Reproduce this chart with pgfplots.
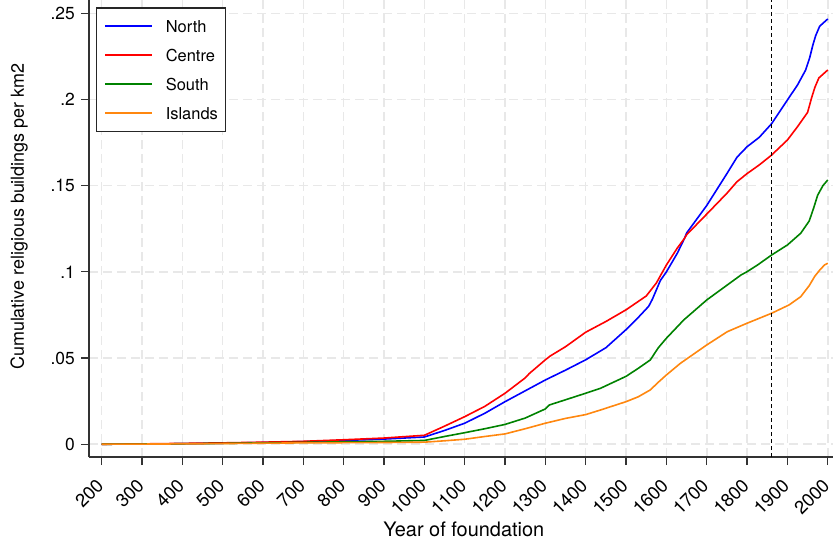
\documentclass[border=0pt]{standalone}
\usepackage{pgfplots}
\usepackage{pgfplotstable}
\usepackage{fontspec}
\setmainfont{TeX Gyre Heros}
\pgfplotsset{compat=1.18}

\definecolor{cNorth}{RGB}{0,0,255}
\definecolor{cCentre}{RGB}{255,0,0}
\definecolor{cSouth}{RGB}{0,130,0}
\definecolor{cIslands}{RGB}{255,135,15}

% cumulative religious buildings per km2, by year of foundation
\pgfplotstableread{
year v
200 0
300 0.0001
400 0.0003
500 0.0006
600 0.0010
700 0.0015
800 0.0022
900 0.0030
1000 0.0042
1050 0.0080
1100 0.0122
1150 0.0180
1200 0.0247
1250 0.0310
1300 0.0373
1350 0.0430
1400 0.0490
1450 0.0560
1500 0.0665
1530 0.0735
1556 0.0800
1565 0.0840
1575 0.0895
1585 0.0950
1600 0.1000
1627 0.1108
1645 0.1195
1650 0.1225
1700 0.1385
1750 0.1570
1775 0.1665
1800 0.1726
1830 0.1780
1861 0.1860
1900 0.1997
1925 0.2084
1945 0.2170
1955 0.2240
1963 0.2315
1970 0.2370
1980 0.2425
2000 0.2467
}\north

\pgfplotstableread{
year v
200 0
300 0.0002
400 0.0005
500 0.0008
600 0.0012
700 0.0017
800 0.0026
900 0.0036
1000 0.0052
1050 0.0105
1100 0.0160
1150 0.0220
1200 0.0296
1250 0.0385
1260 0.0410
1300 0.0490
1312 0.0512
1350 0.0566
1400 0.0650
1450 0.0712
1500 0.0780
1550 0.0860
1575 0.0935
1600 0.1040
1627 0.1138
1645 0.1195
1650 0.1215
1700 0.1335
1750 0.1456
1775 0.1523
1800 0.1570
1830 0.1620
1861 0.1678
1900 0.1765
1925 0.1842
1950 0.1925
1960 0.2010
1968 0.2070
1978 0.2125
2000 0.2171
}\centre

\pgfplotstableread{
year v
200 0
300 0.0001
400 0.0003
500 0.0005
600 0.0008
700 0.0011
800 0.0014
900 0.0017
1000 0.0022
1050 0.0045
1100 0.0067
1150 0.0090
1200 0.0115
1250 0.0152
1300 0.0205
1310 0.0228
1350 0.0258
1400 0.0296
1437 0.0325
1500 0.0394
1530 0.0440
1560 0.0489
1580 0.0560
1600 0.0615
1643 0.0721
1700 0.0837
1751 0.0924
1785 0.0982
1800 0.1001
1826 0.1040
1861 0.1098
1900 0.1156
1933 0.1224
1954 0.1295
1965 0.1370
1975 0.1445
1988 0.1500
2000 0.1533
}\south

\pgfplotstableread{
year v
200 0
300 0.0001
400 0.0002
500 0.0004
600 0.0006
700 0.0008
800 0.0009
900 0.0010
1000 0.0012
1050 0.0020
1100 0.0029
1150 0.0045
1200 0.0060
1250 0.0090
1300 0.0122
1350 0.0150
1400 0.0172
1437 0.0199
1500 0.0247
1530 0.0275
1560 0.0315
1580 0.0360
1600 0.0402
1635 0.0470
1700 0.0576
1751 0.0653
1800 0.0702
1861 0.0760
1904 0.0808
1933 0.0856
1954 0.0920
1968 0.0975
1980 0.1010
1992 0.1040
2000 0.1050
}\islands

\begin{document}
\begin{tikzpicture}
\path[use as bounding box] (-89bp,-91bp) rectangle (744bp,457bp);
\begin{axis}[
  at={(0,0)}, anchor=south west,
  scale only axis,
  width=744bp, height=457bp,
  xmin=168.5, xmax=2013,
  ymin=-0.0074, ymax=0.2577,
  axis x line*=bottom, axis y line*=left,
  axis line style={black!80, line width=1.2bp, -},
  xtick={200,300,...,2000},
  ytick={0,0.05,0.1,0.15,0.2,0.25},
  yticklabels={0,.05,.1,.15,.2,.25},
  xticklabel={\pgfmathprintnumber[1000 sep={},assume math mode=true]{\tick}},
  tick align=outside,
  major tick length=8bp,
  tick style={black!80, line width=1.2bp},
  grid=major,
  major grid style={dash pattern=on 9bp off 5bp, line width=1.5bp, color=black!9},
  xticklabel style={font=\fontsize{18.5}{18.5}\selectfont, xshift=-1.5bp, yshift=-17bp,
    rotate=45, anchor=east, inner sep=0pt, text depth=0pt},
  yticklabel style={font=\fontsize{17.5}{17.5}\selectfont, anchor=east,
    inner sep=0pt, text depth=0pt, xshift=-6bp},
  xlabel={Year of foundation},
  ylabel={Cumulative religious buildings per km2},
  xlabel style={font=\fontsize{20}{20}\selectfont,
    at={(axis description cs:0.5038,-0.1422)}, anchor=north, inner sep=0pt},
  ylabel style={font=\fontsize{18}{18}\selectfont,
    at={(axis description cs:-0.082,0.526)}, anchor=south, inner sep=0pt},
  legend image code/.code={\draw[#1] (0bp,0bp) -- (47bp,0bp);},
  legend cell align=left,
  legend style={at={(axis description cs:0.0094,0.984)}, anchor=north west,
    draw=black!85, line width=1.2bp, fill=white,
    inner xsep=8bp, inner ysep=12bp, row sep=16.5bp, column sep=12.6bp,
    nodes={inner sep=0pt, text height=12.5bp, text depth=0pt, font=\fontsize{16.5}{16.5}\selectfont}},
  every axis plot/.append style={line width=1.6bp, line join=round},
]
\addplot[cNorth] table[x=year, y=v] {\north};
\addlegendentry{North}
\addplot[cCentre] table[x=year, y=v] {\centre};
\addlegendentry{Centre}
\addplot[cSouth] table[x=year, y=v] {\south};
\addlegendentry{South}
\addplot[cIslands] table[x=year, y=v] {\islands};
\addlegendentry{Islands}
% 1861 marker
\addplot[black, line width=1.6bp, dash pattern=on 4bp off 3bp, forget plot]
  coordinates {(1861,-0.0074) (1861,0.2577)};
\end{axis}
\end{tikzpicture}
\end{document}
